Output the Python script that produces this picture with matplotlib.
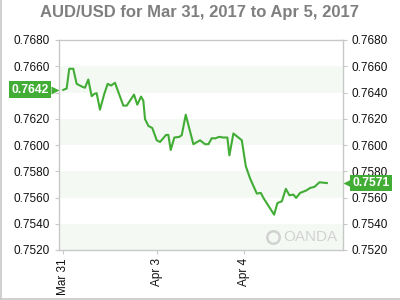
import matplotlib
matplotlib.use("Agg")
import matplotlib.pyplot as plt
import numpy as np

# hours since the Mar 31 tick (weekend gap removed) and AUD/USD rate
hours = [0.0, 0.93, 1.64, 2.74, 3.67, 5.04, 5.95, 6.85, 7.78, 8.49, 9.15, 10.05,
         11.23, 12.16, 13.07, 14.16, 16.44, 17.37, 19.37, 20.27, 21.29, 21.92,
         22.38, 23.29, 24.38, 25.59, 26.49, 28.14, 28.77, 29.42, 30.41, 31.78,
         32.44, 33.53, 35.62, 37.45, 38.82, 39.73, 40.66, 41.56, 42.66, 43.84,
         44.93, 45.48, 46.58, 48.88, 49.97, 51.15, 52.99, 54.08, 54.79, 57.73,
         58.63, 59.84, 60.93, 61.92, 63.01, 63.75, 64.85, 66.49, 67.59, 68.77,
         70.14, 72.16]
rate = [0.7642, 0.7643, 0.76581, 0.76581, 0.76466, 0.76446, 0.76436, 0.76499,
        0.76372, 0.76389, 0.76395, 0.76269, 0.76389, 0.76466, 0.76453, 0.76474,
        0.76300, 0.76300, 0.76384, 0.76307, 0.76369, 0.76338, 0.76198, 0.76146,
        0.76129, 0.76036, 0.76023, 0.76077, 0.76077, 0.75962, 0.76057, 0.76062,
        0.76075, 0.76231, 0.76006, 0.76036, 0.76006, 0.76006, 0.76052, 0.76050,
        0.76062, 0.76057, 0.76057, 0.75921, 0.76088, 0.76036, 0.75839, 0.75745,
        0.75630, 0.75635, 0.75597, 0.75469, 0.75558, 0.75571, 0.75666, 0.75617,
        0.75622, 0.75597, 0.75635, 0.75653, 0.75673, 0.75681, 0.75716, 0.7571]

tick_pos = [0.0, 25.6, 49.6]
tick_labels = ["Mar 31", "Apr 3", "Apr 4"]
y_ticks = [0.7520, 0.7540, 0.7560, 0.7580, 0.7600, 0.7620, 0.7640, 0.7660, 0.7680]
bands = [(0.7520, 0.7540), (0.7560, 0.7580), (0.7600, 0.7620), (0.7640, 0.7660)]

green = "#41ad35"
grey = "#c8c8c8"
plt.rcParams["font.family"] = ["Liberation Sans", "DejaVu Sans"]

fig = plt.figure(figsize=(4, 3), dpi=100)
ax = fig.add_axes([58.5 / 400, 50 / 300, 284.2 / 400, 210 / 300])

for lo, hi in bands:
    ax.axhspan(lo, hi, color="#f4f9f4", lw=0, zorder=0)

ax.plot(hours, rate, color=green, lw=1.5, zorder=3)

ax.set_xlim(-1.3, 76.5)
ax.set_ylim(0.7520, 0.7680)
ax.set_yticks(y_ticks)
ax.set_yticklabels(["%.4f" % v for v in y_ticks])
ax.set_xticks(tick_pos)
ax.set_xticklabels(tick_labels, rotation=90)
ax.tick_params(axis="y", which="both", left=True, right=True, labelleft=True,
               labelright=True, length=3, width=0.8, color=grey, labelsize=8.5,
               labelcolor="#111111", pad=3)
ax.tick_params(axis="x", length=3, width=0.8, color=grey, labelsize=8.5,
               labelcolor="#111111", pad=3)
for s in ax.spines.values():
    s.set_color(grey)
    s.set_linewidth(1.0)

# the left price flag hides this tick label in the original
for t in ax.yaxis.get_major_ticks():
    if abs(t.get_loc() - 0.7640) < 1e-6:
        t.label1.set_visible(False)

fig.text(0.5, 1 - 13 / 300, "AUD/USD for Mar 31, 2017 to Apr 5, 2017",
         ha="center", va="center", fontsize=12, fontweight="bold", color="#7f7f7f")

# price labels at both ends
ytr = ax.get_yaxis_transform()
ax.text(-0.035, rate[0], "%.4f" % rate[0], transform=ytr, ha="right", va="center",
        fontsize=8.7, fontweight="bold", color="white", clip_on=False, zorder=5,
        bbox=dict(boxstyle="square,pad=0.2", fc=green, ec="none"))
ax.plot([-0.012], [rate[0]], marker=">", ms=6, color=green, transform=ytr,
        clip_on=False, zorder=5, mec="none")
ax.text(1.035, rate[-1], "%.4f" % rate[-1], transform=ytr, ha="left", va="center",
        fontsize=8.7, fontweight="bold", color="white", clip_on=False, zorder=5,
        bbox=dict(boxstyle="square,pad=0.2", fc=green, ec="none"))
ax.plot([1.014], [rate[-1]], marker="<", ms=6, color=green, transform=ytr,
        clip_on=False, zorder=5, mec="none")

# watermark
ax.text(0.982, 0.06, "OANDA", transform=ax.transAxes, ha="right", va="center",
        fontsize=11, color="#d2d2d2", zorder=1)
ax.plot([0.754], [0.06], marker="o", ms=9, mfc="none", mec="#d2d2d2", mew=1.8,
        transform=ax.transAxes, zorder=1)

# outer frame lines
fig.add_artist(plt.Line2D([0.002, 0.002], [0, 1], color=grey, lw=1.2, transform=fig.transFigure))
fig.add_artist(plt.Line2D([0, 1], [0.004, 0.004], color=grey, lw=1.2, transform=fig.transFigure))

fig.savefig("out.png", dpi=100)
